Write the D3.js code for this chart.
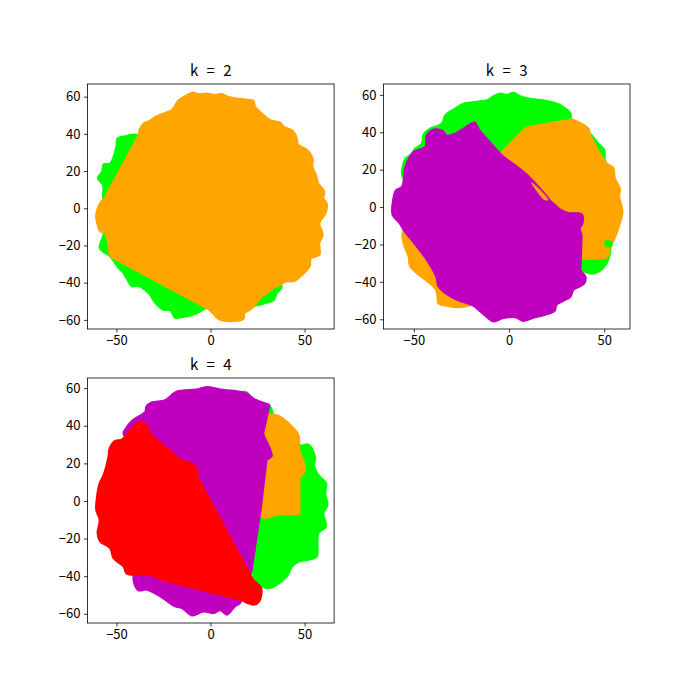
<!DOCTYPE html>
<html>
<head>
<meta charset="utf-8">
<script src="https://cdn.jsdelivr.net/npm/d3@7"></script>
<style>
body { margin: 0; background: #fff; }
text { font-family: "Noto Sans CJK SC", sans-serif; fill: #000; }
</style>
</head>
<body>
<svg id="chart" width="700" height="700"></svg>
<script>
var colorGreen = "#00ff00", colorOrange = "#ffa500", colorPurple = "#bf00bf", colorRed = "#ff0000";

var xTicks = [-50, 0, 50];
var yTicks = [-60, -40, -20, 0, 20, 40, 60];
var titles = ["k = 2", "k = 3", "k = 4"];

// data limits of each subplot
var xDomains = [[-65.4, 65.7], [-66, 63.5], [-65.4, 65.7]];
var yDomains = [[-64.9, 66.8], [-65.2, 65.8], [-64.9, 65.4]];

// k = 2
var k2Green = [[-38.3,39.4],[-45.4,38.9],[-49.5,37.6],[-50.2,33.2],[-53.4,24.2],[-56.9,23.8],[-57.8,19.7],[-60.1,16.1],[-57.3,12.5],[-57.3,6.3],[-56.9,-13.4],[-59,-21.5],[-53.4,-26],[-48.9,-32.3],[-46.3,-34.9],[-41.8,-42.1],[-38.8,-41.8],[-33,-45.7],[-29.4,-51.1],[-25,-54.7],[-21.5,-55],[-18.8,-59.1],[-15.2,-58.6],[-10.8,-57.9],[-5.5,-55.6],[-2,-53.8],[24.6,-52.3],[29.1,-51.1],[33.5,-49.6],[35.3,-45.7],[37.9,-42.1]];
var k2Orange = [[-18.8,55.6],[-17,58.2],[-13.5,60.4],[-9,62.4],[-6.9,61.5],[-2,61.8],[2,61.1],[6,61.5],[9.6,60],[14,59.1],[18.4,58.6],[22.9,57.9],[23.8,54.7],[27.3,51.1],[31.7,47.5],[37.1,46.1],[39.2,43.9],[43.3,42.1],[45.6,38.9],[46.8,34.1],[51.2,31.7],[54.4,26.9],[54.3,22.4],[56.2,17.9],[57.4,13.4],[60.6,9],[60.1,5.4],[61.9,2.7],[61.3,-2.7],[58,-8.1],[59.8,-14.3],[58,-18.5],[58,-25.1],[53.4,-27.2],[53,-31],[51.2,-33.5],[48,-36.7],[44.1,-39.4],[40.6,-39.4],[37.1,-41.2],[33.5,-43],[30,-45.7],[26.4,-48.4],[23.8,-52],[21.1,-54.7],[18.1,-56.5],[17.6,-59.7],[10.5,-60.9],[6,-60.4],[3.4,-59.1],[1.2,-56.5],[-2,-53.8],[-4,-52.7],[-51.4,-27.1],[-53.4,-26],[-54.3,-20.6],[-56,-13.4],[-58.7,-12.5],[-60.1,-9],[-61,-4.5],[-60.1,0],[-58.7,3],[-56,6.3],[-55,8.2],[-39.3,37.5],[-38.3,39.4],[-37.8,42.5],[-35.6,45.7],[-32.4,47.1],[-29.4,49.3],[-24.1,51.4],[-20.6,52.9]];

// k = 3
var k3Green = [[-55.5,15.3],[-54.6,26],[-52,27.8],[-49.4,31.4],[-45.9,34],[-45,39],[-41.5,42.1],[-35.4,44.7],[-33.6,49.2],[-28.4,52.8],[-24,55.4],[-17.9,56.3],[-10.9,57.6],[-8.2,59.4],[-4.7,60.8],[-1.2,60.2],[2.3,61.3],[5.8,59.4],[11,58.1],[18,57.2],[24.2,55.8],[28.5,53.7],[32.4,50.1],[32.9,46.5],[42.6,39.4],[46.9,34],[50.1,30.5],[50.4,25.1],[51.3,23.4],[52.2,-28.3],[45.2,-35.5],[38.2,-33.7],[-4.7,28.7]];
var k3Orange = [[-4.7,28.7],[-3.3,30.1],[7,40.7],[8.4,42.1],[12.8,43.5],[14.8,43.8],[30.9,46.6],[32.9,46.9],[41.7,42.1],[42.6,39],[51.3,23.4],[54.8,21.2],[55.7,15.3],[58.3,10],[58,5.5],[59.7,-2.5],[58.3,-8.7],[56.6,-14.1],[53.1,-22.1],[51.7,-26.6],[44.3,-27.8],[40.8,-27.8],[37.3,-28.3],[-19.6,-52.4],[-25.7,-53.7],[-32.7,-52.9],[-37.1,-51.5],[-38.4,-44.4],[-52,-31.9],[-52.9,-26.6],[-55.5,-19.4],[-55.5,-12.3]];
var k3GreenDot = [[50.4,-18.5],[52.2,-18],[54.1,-19.1],[53.4,-21.2],[51,-20.9]];
var k3Purple = [[-17.9,45.3],[-15.6,41.2],[-14.3,39.7],[-6,30.2],[-4.7,28.7],[-3.2,27.3],[9.3,17.5],[19.8,5.9],[21.8,3.4],[23.3,2],[26.8,-1.1],[31.2,-3],[38.2,-3.7],[38.7,-8.7],[37.3,-11.4],[38.2,-15],[38.2,-17],[37.7,-31.7],[37.7,-33.7],[40.3,-37.3],[39.4,-41.2],[33.8,-44.4],[32.4,-48],[25,-52.4],[24.2,-55.4],[18.9,-57.8],[13.7,-59],[7.5,-61],[3.2,-59],[-3,-59.5],[-8.2,-61.3],[-11.7,-59],[-16.1,-55.1],[-18.7,-52.9],[-29.2,-48.8],[-37.1,-42.6],[-38.4,-37.3],[-43.3,-28.3],[-54.3,-13.9],[-55.5,-12.3],[-57.6,-8.7],[-61.3,-4.3],[-61.3,2],[-59.5,9.1],[-56.4,10.9],[-55.2,17.1],[-54.6,21.6],[-50.2,29.6],[-44.1,32.3],[-43.3,38.5],[-38.9,41.7],[-34.8,40.8],[-32.7,38.3],[-28.4,39.4],[-24,42.1],[-20.5,44.4]];
var k3Sliver = [[12,12.8],[20.2,4],[18.5,4.3],[13.5,10.6]];

// k = 4
var k4Green = [[17.2,58.2],[19.7,57.6],[21.1,55],[31.8,50.2],[33.9,45.4],[46.9,29.8],[52.2,30.1],[55.8,22.7],[55.2,19.1],[57.5,13.8],[61.6,9.4],[61.1,4.1],[62.3,-2.1],[60.2,-6.6],[61.5,-13.7],[57.5,-17.2],[57,-24.3],[56.7,-29.6],[52.2,-31.4],[46.9,-32.3],[43.3,-35.3],[40.7,-40.2],[35.3,-44.7],[30.9,-46.5],[24.7,-43.8],[22,-35.8],[24.7,-11.9],[28.2,45.7]];
var k4Orange = [[29.1,44.9],[35.3,45.7],[40.7,42.2],[46.9,35.1],[47.4,27.1],[50.4,16.5],[47.4,12.1],[47.4,10],[47.4,-4.6],[47.4,-6.6],[35.3,-7.4],[28.2,-9.2],[26.1,-6.6],[30,21.8],[32.7,23.9],[28.2,34.2]];
var k4Purple = [[-7.3,59.4],[-2,60.8],[5.2,59.4],[12.3,58.7],[19.4,57.3],[22.9,54.6],[28.2,52.3],[31.4,51.1],[31,49],[28.6,38],[28.2,36],[32.7,23.9],[30,21.8],[29.7,19.8],[26.8,-4.6],[26.5,-6.6],[26.2,-8.6],[22.3,-34.7],[22,-36.7],[15.8,-54.4],[13.1,-56.2],[8.7,-60.6],[5.2,-58.3],[1.6,-59.8],[-3.7,-58.9],[-9.9,-61],[-15.3,-57.1],[-18.8,-56.2],[-26.8,-50.9],[-33.9,-47.3],[-38.4,-47.7],[-40.7,-43.8],[-41,-39.4],[-26.8,0.5],[-46.4,36],[-45.5,38.1],[-41.9,42.7],[-34.8,47.5],[-34.3,50.2],[-31.3,52.5],[-24.2,53.7],[-19.7,57.3],[-17.1,58.7],[-13.5,59]];
var k4Red = [[-37.5,42.2],[-33.6,39.9],[-31.3,35.1],[-30,34],[-17.5,23.3],[-16.2,22.2],[-10,20],[-6.9,16.5],[-6.9,12.9],[-6,11.3],[21.9,-40.2],[22.9,-42],[27.1,-46.5],[26,-53.5],[22.9,-55.3],[15.8,-52.7],[13.8,-52.2],[-23,-42.9],[-25,-42.4],[-32.1,-39.4],[-44.6,-38.8],[-46.4,-34.9],[-51.7,-30.5],[-53.5,-25.2],[-58.8,-21.6],[-60.2,-17.2],[-59.1,-10.1],[-60.9,-4.8],[-60.6,1.4],[-59.1,9.4],[-57,13.8],[-54.4,23.6],[-53.8,28],[-50.8,32.1],[-47.2,32.8],[-41.9,38.7]];

var layers = [
    [[k2Green, colorGreen], [k2Orange, colorOrange]],
    [[k3Green, colorGreen], [k3Orange, colorOrange], [k3GreenDot, colorGreen], [k3Purple, colorPurple], [k3Sliver, colorOrange]],
    [[k4Green, colorGreen], [k4Orange, colorOrange], [k4Purple, colorPurple], [k4Red, colorRed]]
];

// subplot boxes, default matplotlib 2x2 layout at 700x700
var boxes = [
    {left: 87.5, top: 84},
    {left: 383.4, top: 84},
    {left: 87.5, top: 378}
];
var boxW = 246.6, boxH = 245;

var svg = d3.select("#chart");

boxes.forEach(function (box, i) {
    var g = svg.append("g")
        .attr("transform", "translate(" + box.left + "," + box.top + ")");

    var x = d3.scaleLinear().domain(xDomains[i]).range([0, boxW]);
    var y = d3.scaleLinear().domain(yDomains[i]).range([boxH, 0]);

    var line = d3.line()
        .x(function (d) { return x(d[0]); })
        .y(function (d) { return y(d[1]); })
        .curve(d3.curveCatmullRomClosed.alpha(0.5));

    g.selectAll("path.cluster")
        .data(layers[i])
        .enter()
        .append("path")
        .attr("class", "cluster")
        .attr("d", function (d) { return line(d[0]); })
        .attr("fill", function (d) { return d[1]; })
        .attr("stroke", function (d) { return d[1]; })
        .attr("stroke-width", 1.5)
        .attr("stroke-linejoin", "round");

    var xAxis = d3.axisBottom(x).tickValues(xTicks).tickSizeOuter(0).tickSize(3.5).tickPadding(3.5);
    var yAxis = d3.axisLeft(y).tickValues(yTicks).tickSizeOuter(0).tickSize(3.5).tickPadding(3.5);

    g.append("g").attr("transform", "translate(0," + boxH + ")").call(xAxis)
        .call(function (a) { a.select(".domain").remove(); });
    g.append("g").call(yAxis)
        .call(function (a) { a.select(".domain").remove(); });

    g.selectAll(".tick line").attr("stroke-width", 0.8);
    g.selectAll(".tick text").style("font-size", "13px");

    g.append("rect")
        .attr("width", boxW)
        .attr("height", boxH)
        .attr("fill", "none")
        .attr("stroke", "#000")
        .attr("stroke-width", 0.8);

    g.append("text")
        .attr("x", boxW / 2)
        .attr("y", -8)
        .attr("text-anchor", "middle")
        .style("font-size", "15px")
        .style("word-spacing", "5px")
        .text(titles[i]);
});
</script>
</body>
</html>
